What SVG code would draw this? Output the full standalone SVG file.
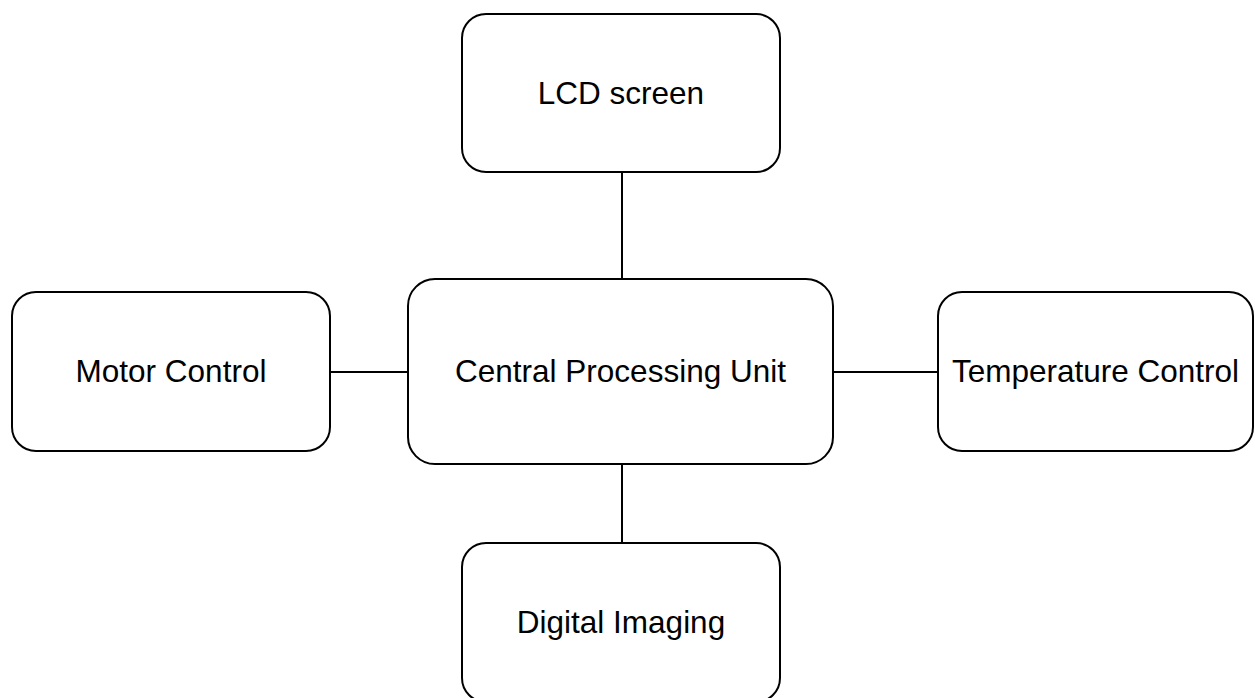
<svg xmlns="http://www.w3.org/2000/svg" width="1255" height="698" viewBox="0 0 1255 698">
  <style>
    .box { fill: #ffffff; stroke: #000000; stroke-width: 2; }
    .label { font-family: "Liberation Sans", Arial, Helvetica, sans-serif; font-size: 31.5px; fill: #000000; text-anchor: middle; }
    .link { stroke: #000000; stroke-width: 2; fill: none; }
  </style>
  <rect width="1255" height="698" fill="#ffffff"/>

  <!-- connectors between the central unit and its peripherals -->
  <g id="connectors">
    <line class="link" x1="622" y1="172" x2="622" y2="279"/>
    <line class="link" x1="622" y1="464" x2="622" y2="543"/>
    <line class="link" x1="330" y1="372" x2="408" y2="372"/>
    <line class="link" x1="833" y1="372" x2="938" y2="372"/>
  </g>

  <g id="lcd-screen">
    <rect class="box" x="462" y="14" width="318" height="158" rx="24" ry="24"/>
    <text class="label" x="621" y="104">LCD screen</text>
  </g>

  <g id="motor-control">
    <rect class="box" x="12" y="292" width="318" height="159" rx="24" ry="24"/>
    <text class="label" x="171" y="382">Motor Control</text>
  </g>

  <g id="central-processing-unit">
    <rect class="box" x="408" y="279" width="425" height="185" rx="27" ry="27"/>
    <text class="label" x="620.5" y="382">Central Processing Unit</text>
  </g>

  <g id="temperature-control">
    <rect class="box" x="938" y="292" width="315" height="159" rx="24" ry="24"/>
    <text class="label" x="1095.5" y="382">Temperature Control</text>
  </g>

  <g id="digital-imaging">
    <rect class="box" x="462" y="543" width="318" height="159" rx="24" ry="24"/>
    <text class="label" x="621" y="633">Digital Imaging</text>
  </g>
</svg>
